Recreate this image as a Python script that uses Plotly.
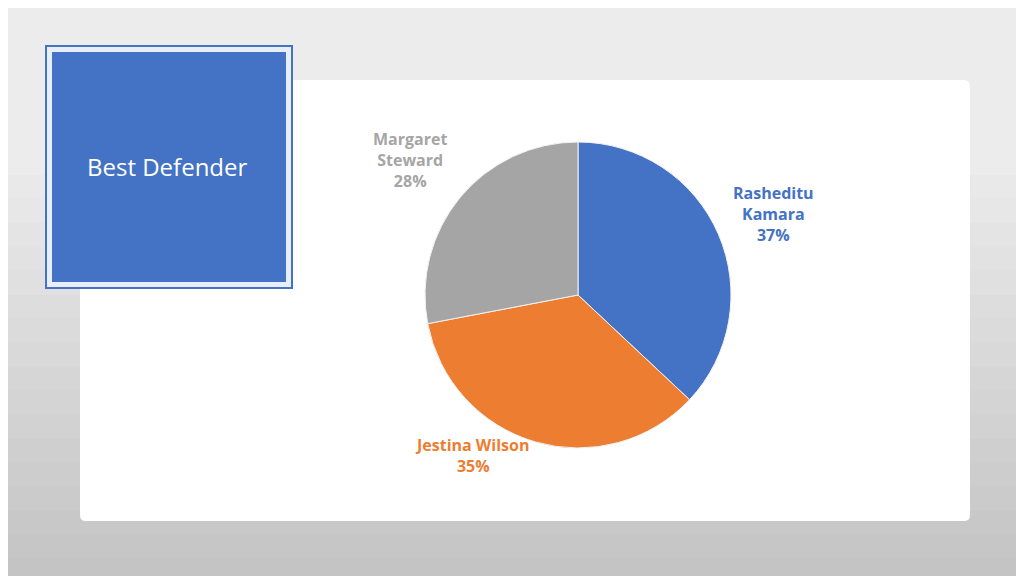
import plotly.graph_objects as go

# data
names = ["Rasheditu<br>Kamara", "Jestina Wilson", "Margaret<br>Steward"]
shares = [37, 35, 28]
colors = ["#4472C4", "#ED7D31", "#A5A5A5"]
title_text = "Best Defender"

W, H = 1024, 576
OFF = 8  # page margin the figure is drawn at

def px(x):
    return (x - OFF) / W

def py(y):
    return 1 - (y - OFF) / H

fig = go.Figure()
fig.add_trace(go.Pie(
    labels=names, values=shares, sort=False, direction="clockwise", rotation=0,
    marker=dict(colors=colors, line=dict(color="#f2f2f2", width=1)),
    textinfo="none", hoverinfo="label+percent", showlegend=False,
    domain=dict(x=[px(425), px(731)], y=[py(448), py(142)]),
))

shapes = []
# background gradient bands
n = 24
for i in range(n):
    g = int(236 - (236 - 196) * max(0, (i - 6)) / (n - 7))
    shapes.append(dict(type="rect", xref="paper", yref="paper", layer="below",
                       x0=0, x1=1, y0=1 - (i + 1) / n, y1=1 - i / n + 0.002,
                       fillcolor=f"rgb({g},{g},{g})", line_width=0))
# white panel with rounded corners
x0, x1, y0, y1, r = px(80), px(970), py(521), py(80), 6
rx, ry = r / W, r / H
shapes.append(dict(type="path", xref="paper", yref="paper", layer="below",
    path=(f"M {x0+rx},{y1} L {x1-rx},{y1} Q {x1},{y1} {x1},{y1-ry} L {x1},{y0+ry} "
          f"Q {x1},{y0} {x1-rx},{y0} L {x0+rx},{y0} Q {x0},{y0} {x0},{y0+ry} "
          f"L {x0},{y1-ry} Q {x0},{y1} {x0+rx},{y1} Z"),
    fillcolor="white", line_width=0))
# title box
shapes.append(dict(type="rect", xref="paper", yref="paper", layer="below",
                   x0=px(46), x1=px(292), y0=py(288), y1=py(46),
                   fillcolor="#e8eef8", line=dict(color="#4472C4", width=2)))
shapes.append(dict(type="rect", xref="paper", yref="paper", layer="below",
                   x0=px(52), x1=px(286), y0=py(282), y1=py(52),
                   fillcolor="#4472C4", line_width=0))

ann_pos = [(773, 214), (472, 455), (410, 160)]
annotations = [dict(x=px(85), y=py(166), xref="paper", yref="paper", text=title_text,
                    showarrow=False, xanchor="left", yanchor="middle",
                    font=dict(family="Open Sans", size=24, color="white"))]
for (ax, ay), name, v, c in zip(ann_pos, names, shares, colors):
    annotations.append(dict(x=px(ax), y=py(ay), xref="paper", yref="paper",
                            text=f"<b>{name}<br>{v}%</b>", showarrow=False,
                            align="center", xanchor="center", yanchor="middle",
                            font=dict(family="Open Sans", size=16, color=c)))

fig.update_layout(width=W, height=H, margin=dict(l=0, r=0, t=0, b=0),
                  paper_bgcolor="#e0e0e0", plot_bgcolor="#e0e0e0",
                  shapes=shapes, annotations=annotations)
fig.write_html("out.html")
